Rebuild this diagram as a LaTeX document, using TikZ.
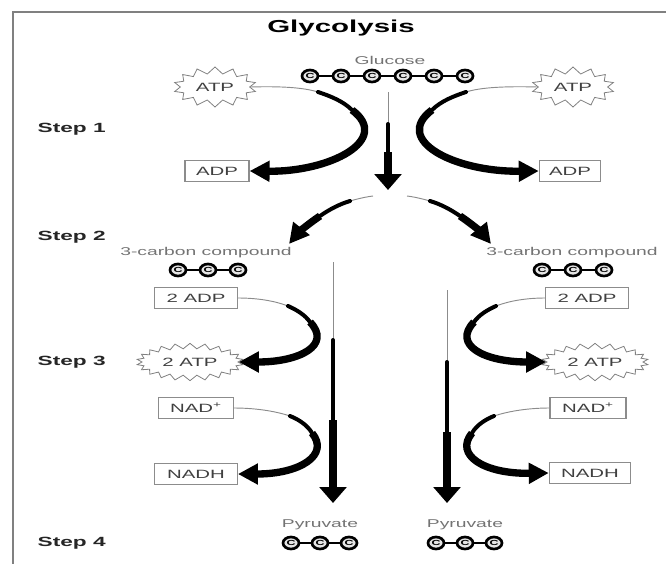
\documentclass[tikz,border=0pt]{standalone}
\usepackage{fontspec}
\setmainfont{Liberation Sans}[FakeStretch=1.7]
\usetikzlibrary{shapes.geometric,shapes.symbols,arrows.meta}

\tikzset{
  stepname/.style={anchor=west, font=\bfseries\fontsize{10}{12}\selectfont, text=black!85},
  graytxt/.style={text=black!55, font=\fontsize{8.5}{10}\selectfont},
  molbox/.style={draw=black!45, line width=0.9pt, text=black!75, font=\fontsize{9}{10}\selectfont, inner sep=1pt, minimum height=16pt},
  burst/.style={starburst, starburst points=14, starburst point height=5pt, random starburst=0, draw=black!50, line width=0.6pt, text=black!75, font=\fontsize{9}{10}\selectfont, inner sep=1pt},
  carbon/.style={ellipse, draw, fill=black!10, line width=2pt, inner sep=0pt, minimum width=12pt, minimum height=9pt, font=\bfseries\fontsize{5.5}{6}\selectfont},
  bond/.style={line width=1.5pt},
  thinend/.style={draw=black!45, line width=0.7pt},
  midwidth/.style={line width=3pt, line cap=round},
  thickend/.style={line width=5.5pt},
  curvetip/.style={-{Triangle[length=15pt,width=15pt]}},
  droptip/.style={-{Triangle[length=12pt,width=20pt]}},
}

\begin{document}
\begin{tikzpicture}[x=0.75pt,y=0.75pt,yscale=-1,xscale=1]
\useasboundingbox (0,0) rectangle (666,564);

%frame of the page
\draw [black!50, line width=1.8pt] (666,12) -- (13,12) -- (13,564);

%title and step names
\node (title) at (341,28) {\bfseries\fontsize{13}{15}\selectfont Glycolysis};
\node [stepname] (step1) at (33,129) {Step 1};
\node [stepname] (step2) at (33,237) {Step 2};
\node [stepname] (step3) at (33,362) {Step 3};
\node [stepname] (step4) at (33,543) {Step 4};

%glucose
\node [graytxt] (glucose) at (390,60) {Glucose};
\foreach \i/\x in {1/310,2/341,3/372,4/403,5/434,6/465}
  \node [carbon] (glu\i) at (\x,76) {C};
\draw [bond] (glu1) -- (glu2) -- (glu3) -- (glu4) -- (glu5) -- (glu6);

%3-carbon compounds
\node [graytxt] (cmpTxtL) at (206,253) {3-carbon compound};
\node [graytxt] (cmpTxtR) at (572,253) {3-carbon compound};
\foreach \i/\x in {1/178,2/208,3/238}
  \node [carbon] (cmpL\i) at (\x,270) {C};
\foreach \i/\x in {1/542,2/573,3/604}
  \node [carbon] (cmpR\i) at (\x,270) {C};
\draw [bond] (cmpL1) -- (cmpL2) -- (cmpL3);
\draw [bond] (cmpR1) -- (cmpR2) -- (cmpR3);

%pyruvate
\node [graytxt] (pyrTxtL) at (320,525) {Pyruvate};
\node [graytxt] (pyrTxtR) at (465,525) {Pyruvate};
\foreach \i/\x in {1/291,2/320,3/349}
  \node [carbon] (pyrL\i) at (\x,543) {C};
\foreach \i/\x in {1/436,2/465,3/494}
  \node [carbon] (pyrR\i) at (\x,543) {C};
\draw [bond] (pyrL1) -- (pyrL2) -- (pyrL3);
\draw [bond] (pyrR1) -- (pyrR2) -- (pyrR3);

%ATP / ADP / NAD
\node [burst, minimum width=62pt, minimum height=30pt] (atpL) at (215,87) {ATP};
\node [burst, minimum width=62pt, minimum height=30pt] (atpR) at (573,87) {ATP};
\node [molbox, minimum width=48pt] (adpL) at (217,171) {ADP};
\node [molbox, minimum width=46pt] (adpR) at (570,171) {ADP};
\node [molbox, minimum width=62pt] (adp2L) at (196,298) {2 ADP};
\node [molbox, minimum width=62pt] (adp2R) at (587,298) {2 ADP};
\node [burst, starburst points=22, starburst point height=4pt, minimum width=80pt, minimum height=28pt] (atp2L) at (190,362) {2 ATP};
\node [burst, starburst points=22, starburst point height=4pt, minimum width=80pt, minimum height=28pt] (atp2R) at (595,362) {2 ATP};
\node [molbox, minimum width=56pt] (nadL) at (196,408) {NAD\textsuperscript{+}};
\node [molbox, minimum width=57pt] (nadR) at (588,408) {NAD\textsuperscript{+}};
\node [molbox, minimum width=62pt] (nadhL) at (196,474) {NADH};
\node [molbox, minimum width=61pt] (nadhR) at (590,473) {NADH};

%step 1 arrows
\coordinate (l1a) at (318,92);
\coordinate (l1b) at (352,110);
\draw [thinend] (atpL.east) .. controls (285,86) and (305,88) .. (l1a);
\draw [midwidth] (l1a) .. controls (330,96) and (343,101) .. (l1b);
\draw [thickend, curvetip] (l1b) .. controls (392,140) and (330,172) .. (adpL.east);
\coordinate (r1a) at (466,92);
\coordinate (r1b) at (432,110);
\draw [thinend] (atpR.west) .. controls (499,86) and (479,88) .. (r1a);
\draw [midwidth] (r1a) .. controls (454,96) and (441,101) .. (r1b);
\draw [thickend, curvetip] (r1b) .. controls (392,140) and (454,172) .. (adpR.west);

%glucose splits
\coordinate (c0) at (388,92);
\coordinate (c1) at (388,124);
\coordinate (c2) at (388,152);
\coordinate (c3) at (388,190);
\draw [thinend] (c0) -- (c1);
\draw [midwidth] (c1) -- (c2);
\draw [thickend, droptip] (c2) -- (c3);

%step 2 arrows
\coordinate (sL0) at (373,196);
\coordinate (sL1) at (350,201);
\coordinate (sL2) at (320,216);
\coordinate (sL3) at (289,244);
\draw [thinend] (sL0) .. controls (365,197) and (357,199) .. (sL1);
\draw [midwidth] (sL1) .. controls (340,204) and (330,209) .. (sL2);
\draw [thickend, curvetip] (sL2) .. controls (308,224) and (297,234) .. (sL3);
\coordinate (sR0) at (407,196);
\coordinate (sR1) at (430,201);
\coordinate (sR2) at (460,216);
\coordinate (sR3) at (491,244);
\draw [thinend] (sR0) .. controls (415,197) and (423,199) .. (sR1);
\draw [midwidth] (sR1) .. controls (440,204) and (450,209) .. (sR2);
\draw [thickend, curvetip] (sR2) .. controls (472,224) and (483,234) .. (sR3);

%step 3 arrows
\coordinate (l3a) at (288,306);
\coordinate (l3b) at (310,322);
\draw [thinend] (adp2L.east) .. controls (258,298) and (275,301) .. (l3a);
\draw [midwidth] (l3a) .. controls (297,310) and (305,315) .. (l3b);
\draw [thickend, curvetip] (l3b) .. controls (332,345) and (300,362) .. (atp2L.east);
\coordinate (r3a) at (496,306);
\coordinate (r3b) at (474,322);
\draw [thinend] (adp2R.west) .. controls (526,298) and (509,301) .. (r3a);
\draw [midwidth] (r3a) .. controls (487,310) and (479,315) .. (r3b);
\draw [thickend, curvetip] (r3b) .. controls (452,345) and (484,362) .. (atp2R.west);

\coordinate (l4a) at (290,416);
\coordinate (l4b) at (312,433);
\draw [thinend] (nadL.east) .. controls (255,408) and (275,411) .. (l4a);
\draw [midwidth] (l4a) .. controls (300,420) and (308,426) .. (l4b);
\draw [thickend, curvetip] (l4b) .. controls (330,455) and (300,474) .. (nadhL.east);
\coordinate (r4a) at (494,416);
\coordinate (r4b) at (472,433);
\draw [thinend] (nadR.west) .. controls (529,408) and (509,411) .. (r4a);
\draw [midwidth] (r4a) .. controls (484,420) and (476,426) .. (r4b);
\draw [thickend, curvetip] (r4b) .. controls (454,455) and (484,474) .. (nadhR.west);

%long arrows to pyruvate
\coordinate (dL0) at (333,262);
\coordinate (dL1) at (333,340);
\coordinate (dL2) at (333,420);
\coordinate (dL3) at (333,503);
\draw [thinend] (dL0) -- (dL1);
\draw [midwidth] (dL1) -- (dL2);
\draw [thickend, droptip] (dL2) -- (dL3);
\coordinate (dR0) at (447,290);
\coordinate (dR1) at (447,362);
\coordinate (dR2) at (447,432);
\coordinate (dR3) at (447,503);
\draw [thinend] (dR0) -- (dR1);
\draw [midwidth] (dR1) -- (dR2);
\draw [thickend, droptip] (dR2) -- (dR3);

\end{tikzpicture}
\end{document}
